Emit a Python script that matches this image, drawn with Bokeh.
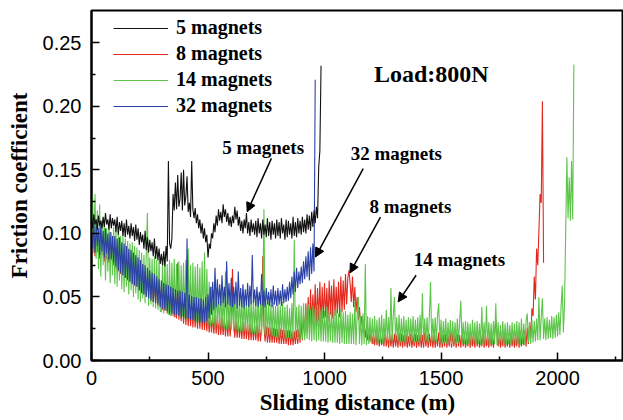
from bokeh.plotting import figure
from bokeh.models import (Range1d, FixedTicker, NumeralTickFormatter, Legend,
                          LegendItem, Label, Arrow, NormalHead)
from bokeh.embed import file_html
from bokeh.resources import INLINE

# sampling interval of the friction records (m)
STEP = 5

# friction coefficient, one value every 5 m
fric_5 = [
    0.112, 0.104, 0.115, 0.107, 0.111, 0.103, 0.114, 0.106, 0.110, 0.104, 0.113, 0.105, 0.116, 0.107, 0.111, 0.103, 0.115, 0.104, 0.112, 0.106,
    0.111, 0.101, 0.113, 0.099, 0.109, 0.102, 0.110, 0.098, 0.108, 0.097, 0.111, 0.099, 0.106, 0.096, 0.108, 0.098, 0.105, 0.094, 0.107, 0.095,
    0.104, 0.091, 0.101, 0.093, 0.099, 0.088, 0.102, 0.087, 0.097, 0.085, 0.095, 0.086, 0.093, 0.082, 0.096, 0.080, 0.090, 0.079, 0.088, 0.076,
    0.084, 0.075, 0.086, 0.074, 0.090, 0.078, 0.157, 0.092, 0.088, 0.096, 0.131, 0.118, 0.140, 0.119, 0.146, 0.121, 0.127, 0.148, 0.118, 0.150,
    0.122, 0.129, 0.145, 0.117, 0.124, 0.113, 0.157, 0.119, 0.112, 0.120, 0.108, 0.115, 0.104, 0.111, 0.100, 0.108, 0.096, 0.104, 0.093, 0.099,
    0.081, 0.092, 0.088, 0.100, 0.096, 0.108, 0.101, 0.114, 0.106, 0.119, 0.110, 0.117, 0.108, 0.123, 0.113, 0.119, 0.109, 0.116, 0.106, 0.113,
    0.105, 0.114, 0.108, 0.121, 0.111, 0.118, 0.106, 0.113, 0.102, 0.110, 0.100, 0.111, 0.104, 0.116, 0.100, 0.109, 0.098, 0.111, 0.101, 0.108,
    0.099, 0.110, 0.097, 0.112, 0.100, 0.108, 0.096, 0.111, 0.099, 0.107, 0.097, 0.112, 0.098, 0.109, 0.095, 0.110, 0.099, 0.108, 0.096, 0.111,
    0.098, 0.109, 0.096, 0.112, 0.100, 0.107, 0.095, 0.111, 0.097, 0.110, 0.099, 0.108, 0.096, 0.113, 0.098, 0.109, 0.097, 0.112, 0.100, 0.110,
    0.099, 0.113, 0.101, 0.111, 0.100, 0.115, 0.103, 0.114, 0.102, 0.117, 0.105, 0.118, 0.108, 0.121, 0.112, 0.152, 0.165, 0.232,
]

fric_8 = [
    0.099, 0.084, 0.101, 0.082, 0.097, 0.085, 0.098, 0.080, 0.096, 0.083, 0.095, 0.078, 0.097, 0.080, 0.093, 0.077, 0.094, 0.079, 0.092, 0.075,
    0.090, 0.072, 0.088, 0.070, 0.089, 0.068, 0.085, 0.067, 0.084, 0.065, 0.083, 0.063, 0.081, 0.062, 0.080, 0.061, 0.078, 0.059, 0.077, 0.058,
    0.075, 0.056, 0.073, 0.054, 0.072, 0.052, 0.070, 0.051, 0.068, 0.049, 0.066, 0.048, 0.065, 0.046, 0.063, 0.045, 0.062, 0.043, 0.060, 0.042,
    0.058, 0.040, 0.056, 0.039, 0.055, 0.037, 0.054, 0.036, 0.053, 0.035, 0.052, 0.034, 0.051, 0.033, 0.077, 0.032, 0.049, 0.031, 0.047, 0.029,
    0.045, 0.028, 0.044, 0.027, 0.044, 0.027, 0.043, 0.026, 0.042, 0.026, 0.041, 0.025, 0.041, 0.025, 0.040, 0.024, 0.039, 0.024, 0.038, 0.023,
    0.037, 0.022, 0.036, 0.022, 0.036, 0.021, 0.035, 0.021, 0.035, 0.020, 0.034, 0.020, 0.034, 0.020, 0.033, 0.019, 0.033, 0.019, 0.033, 0.019,
    0.032, 0.072, 0.032, 0.018, 0.031, 0.018, 0.031, 0.018, 0.030, 0.017, 0.030, 0.017, 0.030, 0.017, 0.029, 0.016, 0.029, 0.016, 0.029, 0.016,
    0.028, 0.016, 0.028, 0.015, 0.028, 0.015, 0.027, 0.082, 0.027, 0.015, 0.027, 0.014, 0.026, 0.014, 0.026, 0.014, 0.026, 0.014, 0.025, 0.014,
    0.025, 0.013, 0.025, 0.013, 0.024, 0.013, 0.024, 0.013, 0.024, 0.012, 0.024, 0.012, 0.023, 0.012, 0.023, 0.013, 0.024, 0.013, 0.025, 0.014,
    0.030, 0.016, 0.036, 0.019, 0.045, 0.022, 0.050, 0.025, 0.056, 0.028, 0.052, 0.030, 0.060, 0.027, 0.057, 0.031, 0.062, 0.029, 0.058, 0.033,
    0.061, 0.034, 0.057, 0.031, 0.063, 0.036, 0.059, 0.033, 0.064, 0.035, 0.058, 0.037, 0.062, 0.034, 0.066, 0.038, 0.063, 0.040, 0.068, 0.044,
    0.065, 0.071, 0.060, 0.046, 0.066, 0.042, 0.058, 0.038, 0.050, 0.032, 0.042, 0.027, 0.035, 0.022, 0.029, 0.018, 0.026, 0.016, 0.024, 0.015,
    0.022, 0.013, 0.021, 0.012, 0.022, 0.012, 0.020, 0.011, 0.021, 0.012, 0.020, 0.011, 0.022, 0.011, 0.020, 0.010, 0.021, 0.011, 0.020, 0.010,
    0.021, 0.011, 0.020, 0.010, 0.022, 0.011, 0.021, 0.010, 0.020, 0.011, 0.021, 0.010, 0.019, 0.011, 0.021, 0.010, 0.020, 0.011, 0.021, 0.010,
    0.020, 0.011, 0.021, 0.010, 0.020, 0.010, 0.022, 0.011, 0.020, 0.010, 0.021, 0.011, 0.020, 0.010, 0.021, 0.010, 0.020, 0.011, 0.022, 0.010,
    0.021, 0.010, 0.020, 0.011, 0.021, 0.010, 0.020, 0.011, 0.022, 0.010, 0.021, 0.011, 0.020, 0.010, 0.021, 0.011, 0.020, 0.010, 0.021, 0.011,
    0.020, 0.010, 0.021, 0.011, 0.020, 0.010, 0.022, 0.011, 0.021, 0.010, 0.020, 0.011, 0.021, 0.010, 0.020, 0.011, 0.021, 0.010, 0.020, 0.011,
    0.021, 0.010, 0.020, 0.011, 0.021, 0.010, 0.020, 0.032, 0.021, 0.011, 0.020, 0.010, 0.021, 0.011, 0.020, 0.010, 0.021, 0.011, 0.020, 0.010,
    0.021, 0.011, 0.020, 0.010, 0.022, 0.011, 0.021, 0.010, 0.023, 0.011, 0.022, 0.012, 0.024, 0.011, 0.026, 0.013, 0.030, 0.018, 0.041, 0.035,
    0.066, 0.048, 0.088, 0.075, 0.102, 0.131, 0.124, 0.204, 0.077,
]

fric_14 = [
    0.068, 0.128, 0.085, 0.131, 0.080, 0.118, 0.072, 0.123, 0.066, 0.110, 0.075, 0.112, 0.063, 0.104, 0.070, 0.108, 0.061, 0.101, 0.067, 0.105,
    0.060, 0.103, 0.058, 0.100, 0.063, 0.098, 0.056, 0.099, 0.054, 0.096, 0.058, 0.094, 0.052, 0.092, 0.055, 0.093, 0.050, 0.090, 0.053, 0.089,
    0.048, 0.087, 0.046, 0.085, 0.049, 0.083, 0.045, 0.084, 0.116, 0.043, 0.081, 0.044, 0.080, 0.042, 0.082, 0.041, 0.079, 0.040, 0.080, 0.039,
    0.038, 0.078, 0.037, 0.080, 0.039, 0.076, 0.036, 0.079, 0.035, 0.077, 0.037, 0.080, 0.034, 0.076, 0.036, 0.078, 0.033, 0.075, 0.035, 0.077,
    0.033, 0.079, 0.032, 0.088, 0.034, 0.075, 0.031, 0.077, 0.032, 0.074, 0.030, 0.076, 0.031, 0.073, 0.029, 0.078, 0.030, 0.085, 0.029, 0.072,
    0.028, 0.062, 0.027, 0.058, 0.029, 0.055, 0.026, 0.057, 0.027, 0.053, 0.025, 0.056, 0.026, 0.052, 0.025, 0.070, 0.024, 0.054, 0.025, 0.051,
    0.024, 0.050, 0.023, 0.053, 0.024, 0.049, 0.022, 0.052, 0.023, 0.048, 0.022, 0.051, 0.023, 0.047, 0.021, 0.050, 0.022, 0.048, 0.021, 0.049,
    0.021, 0.047, 0.020, 0.049, 0.021, 0.046, 0.020, 0.048, 0.119, 0.020, 0.045, 0.019, 0.047, 0.020, 0.044, 0.019, 0.046, 0.019, 0.043, 0.018,
    0.045, 0.018, 0.043, 0.019, 0.046, 0.018, 0.042, 0.017, 0.044, 0.018, 0.041, 0.017, 0.045, 0.017, 0.095, 0.018, 0.042, 0.017, 0.044, 0.016,
    0.043, 0.017, 0.045, 0.016, 0.041, 0.017, 0.044, 0.016, 0.040, 0.015, 0.043, 0.016, 0.041, 0.015, 0.044, 0.016, 0.040, 0.015, 0.042, 0.015,
    0.039, 0.015, 0.042, 0.014, 0.038, 0.015, 0.041, 0.014, 0.039, 0.014, 0.040, 0.014, 0.037, 0.013, 0.041, 0.014, 0.038, 0.013, 0.039, 0.013,
    0.036, 0.013, 0.038, 0.013, 0.037, 0.013, 0.047, 0.012, 0.036, 0.050, 0.013, 0.035, 0.012, 0.037, 0.013, 0.076, 0.012, 0.035, 0.013, 0.034,
    0.014, 0.033, 0.013, 0.035, 0.014, 0.032, 0.013, 0.034, 0.014, 0.036, 0.013, 0.033, 0.014, 0.040, 0.015, 0.034, 0.014, 0.057, 0.015, 0.035,
    0.050, 0.016, 0.034, 0.015, 0.036, 0.014, 0.033, 0.015, 0.035, 0.014, 0.032, 0.015, 0.034, 0.014, 0.033, 0.015, 0.035, 0.014, 0.032, 0.015,
    0.034, 0.014, 0.036, 0.015, 0.053, 0.014, 0.033, 0.015, 0.034, 0.014, 0.035, 0.062, 0.014, 0.033, 0.015, 0.034, 0.014, 0.036, 0.045, 0.014,
    0.032, 0.013, 0.031, 0.014, 0.033, 0.013, 0.030, 0.014, 0.032, 0.013, 0.031, 0.014, 0.030, 0.013, 0.033, 0.014, 0.031, 0.047, 0.013, 0.030,
    0.013, 0.031, 0.012, 0.030, 0.013, 0.029, 0.012, 0.032, 0.013, 0.030, 0.012, 0.031, 0.013, 0.029, 0.012, 0.042, 0.013, 0.030, 0.012, 0.043,
    0.012, 0.030, 0.013, 0.029, 0.012, 0.031, 0.013, 0.045, 0.012, 0.030, 0.013, 0.028, 0.012, 0.031, 0.013, 0.029, 0.012, 0.030, 0.013, 0.028,
    0.012, 0.030, 0.013, 0.029, 0.012, 0.031, 0.013, 0.030, 0.012, 0.033, 0.013, 0.029, 0.012, 0.031, 0.037, 0.014, 0.030, 0.013, 0.032, 0.014,
    0.031, 0.015, 0.033, 0.016, 0.050, 0.016, 0.034, 0.049, 0.017, 0.033, 0.016, 0.034, 0.017, 0.032, 0.018, 0.035, 0.017, 0.034, 0.018, 0.036,
    0.019, 0.038, 0.020, 0.042, 0.059, 0.022, 0.045, 0.102, 0.160, 0.112, 0.144, 0.110, 0.157, 0.111, 0.233,
]

fric_32 = [
    0.100, 0.088, 0.109, 0.085, 0.106, 0.090, 0.104, 0.083, 0.107, 0.086, 0.102, 0.081, 0.104, 0.084, 0.100, 0.079, 0.101, 0.080, 0.098, 0.077,
    0.098, 0.074, 0.096, 0.071, 0.097, 0.069, 0.093, 0.067, 0.092, 0.065, 0.090, 0.064, 0.088, 0.062, 0.087, 0.060, 0.085, 0.059, 0.083, 0.058,
    0.081, 0.055, 0.079, 0.053, 0.076, 0.052, 0.075, 0.050, 0.073, 0.049, 0.071, 0.047, 0.069, 0.046, 0.068, 0.045, 0.066, 0.044, 0.064, 0.042,
    0.063, 0.041, 0.061, 0.040, 0.060, 0.039, 0.059, 0.038, 0.058, 0.037, 0.057, 0.036, 0.056, 0.036, 0.055, 0.035, 0.055, 0.034, 0.054, 0.034,
    0.053, 0.033, 0.096, 0.033, 0.052, 0.032, 0.051, 0.032, 0.050, 0.031, 0.050, 0.031, 0.049, 0.030, 0.049, 0.030, 0.048, 0.030, 0.050, 0.031,
    0.052, 0.033, 0.058, 0.036, 0.062, 0.040, 0.073, 0.042, 0.064, 0.044, 0.060, 0.043, 0.067, 0.045, 0.058, 0.042, 0.078, 0.044, 0.061, 0.043,
    0.065, 0.042, 0.058, 0.044, 0.062, 0.041, 0.070, 0.043, 0.057, 0.042, 0.060, 0.041, 0.056, 0.043, 0.061, 0.042, 0.059, 0.044, 0.083, 0.045,
    0.056, 0.043, 0.058, 0.042, 0.054, 0.044, 0.068, 0.043, 0.055, 0.042, 0.057, 0.044, 0.054, 0.043, 0.056, 0.042, 0.059, 0.044, 0.055, 0.043,
    0.057, 0.044, 0.055, 0.043, 0.060, 0.045, 0.056, 0.046, 0.058, 0.047, 0.062, 0.049, 0.066, 0.052, 0.070, 0.054, 0.073, 0.057, 0.070, 0.060,
    0.074, 0.061, 0.078, 0.064, 0.082, 0.066, 0.086, 0.063, 0.089, 0.068, 0.092, 0.070, 0.221,
]

series_labels = ["5 magnets", "8 magnets", "14 magnets", "32 magnets"]
x_ticks = [0, 500, 1000, 1500, 2000]
x_minor = [250, 750, 1250, 1750, 2250]
y_ticks = [0.0, 0.05, 0.10, 0.15, 0.20, 0.25]
y_minor = [0.025, 0.075, 0.125, 0.175, 0.225]

BLACK = "#111111"
RED = "#e3281e"
GREEN = "#5dc54a"
BLUE = "#2c41a6"

SERIF = "Liberation Serif"
SANS = "Liberation Sans"


def dist(values):
    return [i * STEP for i in range(len(values))]


p = figure(width=623, height=420, output_backend="svg", toolbar_location=None,
           x_range=Range1d(0, 2283), y_range=Range1d(0, 0.2754),
           min_border_left=91, min_border_right=0, min_border_top=10,
           min_border_bottom=60)
p.grid.visible = False
p.outline_line_color = "black"
p.outline_line_width = 2
p.background_fill_color = "white"

r8 = p.line(dist(fric_8), fric_8, line_color=RED, line_width=1.1)
r14 = p.line(dist(fric_14), fric_14, line_color=GREEN, line_width=1.1)
r32 = p.line(dist(fric_32), fric_32, line_color=BLUE, line_width=1.1)
r5 = p.line(dist(fric_5), fric_5, line_color=BLACK, line_width=1.1)

for ax in (p.xaxis[0], p.yaxis[0]):
    ax.axis_line_width = 2
    ax.axis_line_color = "black"
    ax.major_tick_in = 8
    ax.major_tick_out = 0
    ax.minor_tick_in = 4
    ax.minor_tick_out = 0
    ax.major_tick_line_width = 1.5
    ax.minor_tick_line_width = 1.5
    ax.major_label_text_font = SANS
    ax.major_label_text_font_size = "20px"
    ax.major_label_text_color = "black"
    ax.axis_label_text_font = SERIF
    ax.axis_label_text_font_style = "bold"
    ax.axis_label_text_font_size = "23px"
    ax.axis_label_text_color = "black"

p.xaxis.ticker = FixedTicker(ticks=x_ticks, minor_ticks=x_minor)
p.yaxis.ticker = FixedTicker(ticks=y_ticks, minor_ticks=y_minor)
p.yaxis.formatter = NumeralTickFormatter(format="0.00")
p.xaxis.axis_label = "Sliding distance (m)"
p.yaxis.axis_label = "Friction coefficient"
p.xaxis.major_label_standoff = 10
p.xaxis.axis_label_standoff = 2
p.yaxis.major_label_standoff = 10
p.yaxis.axis_label_standoff = 8

legend = Legend(items=[
    LegendItem(label=series_labels[0], renderers=[r5]),
    LegendItem(label=series_labels[1], renderers=[r8]),
    LegendItem(label=series_labels[2], renderers=[r14]),
    LegendItem(label=series_labels[3], renderers=[r32]),
], location=(22, 243))
legend.label_text_font = SERIF
legend.label_text_font_style = "bold"
legend.label_text_font_size = "20px"
legend.label_text_color = "black"
legend.glyph_width = 55
legend.glyph_height = 20
legend.label_height = 20
legend.label_standoff = 8
legend.spacing = 3
legend.padding = 0
legend.margin = 0
legend.border_line_alpha = 0
legend.background_fill_alpha = 0
p.add_layout(legend)

notes = [
    ("5 magnets", 561, 0.1679, 772, 0.159, 668, 0.117),
    ("32 magnets", 1112, 0.1627, 1166, 0.151, 961, 0.0814),
    ("8 magnets", 1193, 0.1208, 1240, 0.1129, 1109, 0.0689),
    ("14 magnets", 1383, 0.0794, 1393, 0.0671, 1316, 0.0461),
]
for txt, tx, ty, xs, ys, xe, ye in notes:
    p.add_layout(Label(x=tx, y=ty, text=txt, text_font=SERIF,
                       text_font_style="bold", text_font_size="19px",
                       text_baseline="middle", text_align="left",
                       text_color="black"))
    p.add_layout(Arrow(x_start=xs, y_start=ys, x_end=xe, y_end=ye,
                       line_width=1.5, line_color="black",
                       end=NormalHead(size=9, fill_color="black",
                                      line_color="black", line_width=1)))

p.add_layout(Label(x=1212, y=0.2256, text="Load:800N", text_font=SERIF,
                   text_font_style="bold", text_font_size="24px",
                   text_baseline="middle", text_align="left",
                   text_color="black"))

open("out.html", "w").write(file_html(p, INLINE))
